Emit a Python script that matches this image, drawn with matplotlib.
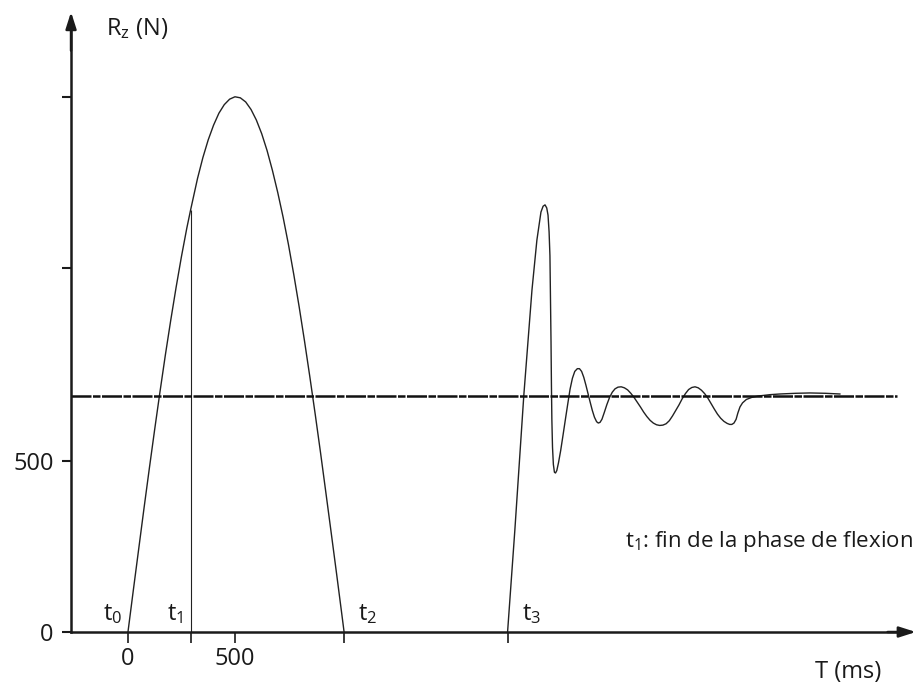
import numpy as np
import matplotlib.pyplot as plt

plt.rcParams['font.family'] = ['Open Sans', 'DejaVu Sans']
plt.rcParams['mathtext.fontset'] = 'custom'
plt.rcParams['mathtext.rm'] = 'Open Sans'
plt.rcParams['mathtext.it'] = 'Open Sans:italic'

# vertical ground reaction force during a jump
# flexion / push-off phase (t0 -> t2)
t_push = [0, 25, 50, 75, 100, 125, 150, 175, 200, 225, 250, 275, 293, 325, 350,
          375, 400, 425, 450, 475, 500, 525, 550, 575, 600, 625, 650, 675, 700,
          725, 750, 775, 800, 825, 850, 875, 900, 925, 950, 975, 1000, 1010]
r_push = [0, 122, 242, 362, 479, 593, 704, 811, 912, 1008, 1098, 1181, 1235, 1326, 1387,
          1439, 1482, 1517, 1542, 1558, 1565, 1562, 1550, 1528, 1497, 1457, 1408, 1350, 1285,
          1213, 1133, 1045, 951, 851, 746, 637, 524, 407, 289, 170, 49, 0]
# landing (t3 -> end)
t_land = [1774, 1808, 1850, 1888, 1911, 1930, 1940, 1949, 1957, 1963, 1968, 1972,
          1975, 1977, 1979, 1981, 1984, 1988, 1993, 1998, 2004, 2012, 2022, 2033,
          2045, 2056, 2066, 2077, 2088, 2100, 2110, 2120, 2130, 2140, 2150, 2160,
          2170, 2180, 2190, 2198, 2206, 2215, 2226, 2238, 2250, 2263, 2276, 2290,
          2305, 2320, 2335, 2350, 2365, 2380, 2395, 2410, 2425, 2440, 2455, 2470,
          2485, 2500, 2515, 2530, 2545, 2560, 2575, 2590, 2605, 2620, 2635, 2650,
          2665, 2680, 2695, 2710, 2725, 2740, 2755, 2770, 2785, 2800, 2812, 2822,
          2832, 2842, 2850, 2860, 2872, 2890, 2915, 2945, 3000, 3047, 3120, 3187,
          3260, 3327]
r_land = [0, 298, 693, 1000, 1146, 1228, 1245, 1249, 1240, 1219, 1170, 1100,
          950, 850, 720, 620, 540, 490, 467, 465, 472, 495, 530, 575,
          625, 670, 710, 742, 762, 770, 770, 762, 745, 722, 697, 672,
          648, 628, 615, 611, 613, 622, 642, 665, 685, 701, 711, 716,
          717, 714, 708, 698, 686, 672, 658, 643, 630, 619, 611, 606,
          604, 605, 609, 618, 632, 648, 664, 682, 697, 709, 715, 717,
          714, 707, 697, 684, 668, 652, 637, 625, 616, 610, 607, 607,
          611, 622, 640, 658, 670, 680, 686, 690, 694, 696, 698, 699,
          698, 696]

weight = 690                        # body weight (N)
t_events = [0, 293, 1010, 1774]     # t0, t1, t2, t3 (ms)
r_t1 = 1235                         # force at t1
yticks = [0, 500, 1065, 1565]
ylabels = ['0', '500', '', '']
xticks = [0, 500] + t_events[1:]
xlabels = ['0', '500', '', '', '']

fig = plt.figure(figsize=(9.18, 6.84), dpi=100)
ax = fig.add_axes([0, 0, 1, 1])
ax.set_xlim(-598, 3692)
ax.set_ylim(-152, 1848)

x0 = -266
ax.spines['left'].set_position(('data', x0))
ax.spines['bottom'].set_position(('data', 0))
ax.spines['left'].set_bounds(0, 1760)
ax.spines['bottom'].set_bounds(x0, 3620)
for s in ['left', 'bottom']:
    ax.spines[s].set_linewidth(1.8)
    ax.spines[s].set_color('#1a1a1a')
for s in ['top', 'right']:
    ax.spines[s].set_visible(False)

# arrow heads
ax.annotate('', xy=(x0, 1813), xytext=(x0, 1700),
            arrowprops=dict(arrowstyle='-|>,head_length=1.0,head_width=0.32',
                            color='#1a1a1a', lw=1.8, shrinkA=0, shrinkB=0))
ax.annotate('', xy=(3682, 0), xytext=(3550, 0),
            arrowprops=dict(arrowstyle='-|>,head_length=1.0,head_width=0.32',
                            color='#1a1a1a', lw=1.8, shrinkA=0, shrinkB=0))

ax.set_yticks(yticks)
ax.set_yticklabels(ylabels)
ax.set_xticks(xticks)
ax.set_xticklabels(xlabels)
ax.tick_params(axis='y', direction='out', length=6.5, width=1.5, pad=6, labelsize=17,
               colors='#1a1a1a')
ax.tick_params(axis='x', direction='out', length=8, width=1.2, pad=3, labelsize=17,
               colors='#1a1a1a')

ax.plot(t_push, r_push, color='#222222', lw=1.0)
ax.plot(t_land, r_land, color='#222222', lw=1.0)
ax.vlines(t_events[1], 0, r_t1, color='#222222', lw=0.8)
ax.plot([x0, 3593], [weight, weight], color='#111111', lw=1.8,
        linestyle=(0, (8, 0.6, 3, 0.6)))

# labels
ax.text(-103, 1746, r'$\mathrm{R_z}$ (N)', fontsize=17, color='#1a1a1a')
ax.text(3210, -135, 'T (ms)', fontsize=17, color='#1a1a1a')
for i, tx in enumerate([-117, 182, 1075, 1841]):
    ax.text(tx, 35, r'$\mathrm{t}_%d$' % i, fontsize=17, color='#1a1a1a')
ax.text(2322, 249, r'$\mathrm{t}_1$: fin de la phase de flexion', fontsize=16,
        color='#1a1a1a')

fig.savefig('out.png', dpi=100)
